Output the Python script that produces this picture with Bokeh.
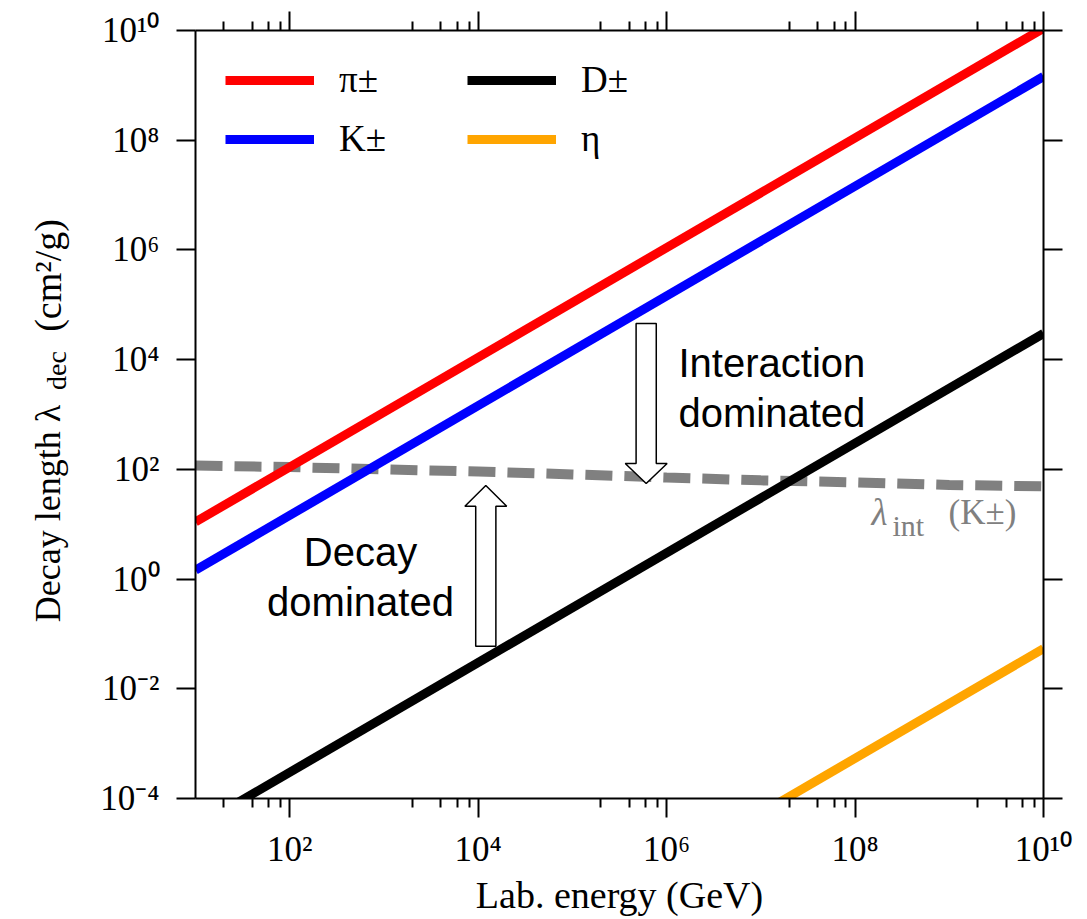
import math
from bokeh.plotting import figure
from bokeh.layouts import row
from bokeh.models import LogAxis, FixedTicker, Label, Legend, LegendItem, CustomJSTickFormatter
from bokeh.embed import file_html
from bokeh.resources import INLINE

# ---------------- data ----------------
energy = [1e1, 1e10]                      # GeV
lam_pion = [1.1e1, 1.1e10]                # cm^2/g
lam_kaon = [1.45, 1.45e9]
lam_dmeson = [3.0e-5, 3.0e4]
lam_eta = [5.4e-11, 5.4e-2]

int_energy = [1e1, 1e2, 1e3, 1e4, 1e5, 1e6, 1e7, 1e8, 1e9, 1e10]
lam_int_kaon = [117, 110, 100, 91, 81, 71, 63, 58, 52, 49]

series_names = ["π±", "K±", "D±", "η"]
series_colors = ["#ff0000", "#0000ff", "#000000", "#ffa500"]

x_ticks = [1e2, 1e4, 1e6, 1e8, 1e10]
x_tick_labels = ["10²", "10⁴", "10⁶", "10⁸", "10¹⁰"]
x_minor_ticks = [m * 10**k for k in (1, 3, 5, 7, 9) for m in (2, 4, 6, 8)]
y_ticks = [1e-4, 1e-2, 1e0, 1e2, 1e4, 1e6, 1e8, 1e10]
y_tick_labels = ["10⁻⁴", "10⁻²", "10⁰", "10²", "10⁴", "10⁶", "10⁸", "10¹⁰"]

# arrows: centre energy, tail, head base, tip (data units)
arrow_center = [6.07e5, 1.205e4]
arrow_tail = [4.56e4, 0.0597]
arrow_head_base = [128.0, 21.3]
arrow_tip = [55.2, 50.8]

H = 919
SIDE_W = 80

# ---------------- main figure ----------------
p = figure(width=1075 - SIDE_W, height=H, x_axis_type="log", y_axis_type="log",
           x_range=(1e1, 1e10), y_range=(1e-4, 1e10),
           output_backend="svg", toolbar_location=None,
           min_border_left=195 - SIDE_W, min_border_right=32, min_border_top=30,
           min_border_bottom=H - 798)
p.xgrid.visible = False
p.ygrid.visible = False
p.outline_line_color = None
p.background_fill_color = "white"
p.border_fill_color = "white"

fmt_code = """
let best = 0, bd = Infinity;
for (let i = 0; i < tvals.length; i++) {
  const d = Math.abs(Math.log10(tvals[i]) - Math.log10(tick));
  if (d < bd) { bd = d; best = i; }
}
return bd < 1e-6 ? tlabels[best] : "";
"""


def style(ax, show):
    ax.axis_line_width = 2
    ax.axis_line_color = "black"
    ax.major_tick_line_width = 2
    ax.minor_tick_line_width = 2
    ax.major_tick_line_color = "black"
    ax.minor_tick_line_color = "black"
    ax.major_tick_out = 19
    ax.major_tick_in = 0
    ax.minor_tick_out = 9
    ax.minor_tick_in = 0
    ax.major_label_text_font = "Liberation Serif"
    ax.major_label_text_color = "black"
    if show:
        ax.major_label_text_font_size = "35px"
    else:
        ax.major_label_text_font_size = "1px"
        ax.major_label_text_alpha = 0
        ax.major_label_standoff = 0


p.xaxis.ticker = FixedTicker(ticks=x_ticks, minor_ticks=x_minor_ticks)
p.yaxis.ticker = FixedTicker(ticks=y_ticks, minor_ticks=[])
p.xaxis.formatter = CustomJSTickFormatter(args=dict(tvals=x_ticks, tlabels=x_tick_labels), code=fmt_code)
p.yaxis.formatter = CustomJSTickFormatter(args=dict(tvals=y_ticks, tlabels=y_tick_labels), code=fmt_code)
style(p.xaxis[0], True)
style(p.yaxis[0], True)
p.xaxis.major_label_standoff = 12
p.yaxis.major_label_standoff = 17
p.xaxis.axis_label = "Lab. energy (GeV)"
p.xaxis.axis_label_text_font = "Liberation Serif"
p.xaxis.axis_label_text_font_size = "38px"
p.xaxis.axis_label_text_font_style = "normal"
p.xaxis.axis_label_text_color = "black"
p.xaxis.axis_label_standoff = 2

top = LogAxis(ticker=FixedTicker(ticks=x_ticks, minor_ticks=x_minor_ticks))
style(top, False)
p.add_layout(top, "above")
right = LogAxis(ticker=FixedTicker(ticks=y_ticks, minor_ticks=[]))
style(right, False)
p.add_layout(right, "right")

# ---------------- interaction length (dashed) ----------------
p.line(int_energy, lam_int_kaon, line_color="#808080", line_width=10,
       line_dash="27 12", line_cap="butt")

# ---------------- arrows ----------------
shaft_hw = 0.107
head_hw = 0.222
for cx, tail, hb, tip in zip(arrow_center, arrow_tail, arrow_head_base, arrow_tip):
    lc = math.log10(cx)
    xs = [lc - shaft_hw, lc - shaft_hw, lc - head_hw, lc, lc + head_hw, lc + shaft_hw, lc + shaft_hw]
    ys = [tail, hb, hb, tip, hb, hb, tail]
    p.patch([10**v for v in xs], ys, fill_color="white", line_color="black", line_width=1.5)

# ---------------- decay lengths ----------------
renderers = []
for lam, col in zip([lam_pion, lam_kaon, lam_dmeson, lam_eta], series_colors):
    r = p.line(energy, lam, line_color=col, line_width=9, line_cap="butt")
    renderers.append(r)

order = [0, 2, 1, 3]  # row-major: pi, D / K, eta
legend = Legend(items=[LegendItem(label=series_names[i], renderers=[renderers[i]]) for i in order],
                location=(30, 638), orientation="horizontal", ncols=2,
                background_fill_alpha=0, border_line_color=None,
                label_text_font="Liberation Serif", label_text_font_size="37px",
                label_text_color="black",
                glyph_width=89, glyph_height=36, label_standoff=25, label_width=112,
                spacing=16, padding=0, margin=0)
p.add_layout(legend, "center")

# ---------------- annotations ----------------
sans = "Liberation Sans"
serif = "Liberation Serif"
anns = [
    dict(x=483, y=436, text="Interaction", text_font=sans, text_font_size="40px", text_align="left"),
    dict(x=483, y=386, text="dominated", text_font=sans, text_font_size="40px", text_align="left"),
    dict(x=165, y=247, text="Decay", text_font=sans, text_font_size="40px", text_align="center"),
    dict(x=165, y=197, text="dominated", text_font=sans, text_font_size="40px", text_align="center"),
    dict(x=676, y=286, text="λ", text_font=serif, text_font_size="37px", text_align="left",
         text_font_style="italic", text_color="#808080"),
    dict(x=697, y=273, text="int", text_font=serif, text_font_size="30px", text_align="left",
         text_color="#808080"),
    dict(x=753, y=286, text="(K±)", text_font=serif, text_font_size="35px", text_align="left",
         text_color="#808080"),
]
for a in anns:
    a.setdefault("text_color", "black")
    p.add_layout(Label(x_units="screen", y_units="screen", text_baseline="alphabetic", **a))

# ---------------- y-axis label (separate narrow canvas, rotated pieces) ----------------
# the side canvas's frame is aligned with the main frame (768 px tall, bottom at 798)
side = figure(width=SIDE_W, height=H, x_range=(0, SIDE_W), y_range=(0, 768),
              x_axis_location=None, y_axis_location=None, toolbar_location=None,
              output_backend="svg", min_border=0)
side.outline_line_color = None
side.xgrid.visible = False
side.ygrid.visible = False
ylab = [
    dict(x=47, y=798 - 513, text="Decay length λ", text_font_size="36px"),
    dict(x=56, y=798 - 370, text="dec", text_font_size="28px"),
    dict(x=47, y=798 - 275, text="(cm²/g)", text_font_size="38px"),
]
for a in ylab:
    side.add_layout(Label(angle=math.pi / 2, text_align="center", text_baseline="middle",
                          text_font=serif, text_color="black", **a))

layout = row(side, p, spacing=0)
open("out.html", "w").write(file_html(layout, INLINE))
